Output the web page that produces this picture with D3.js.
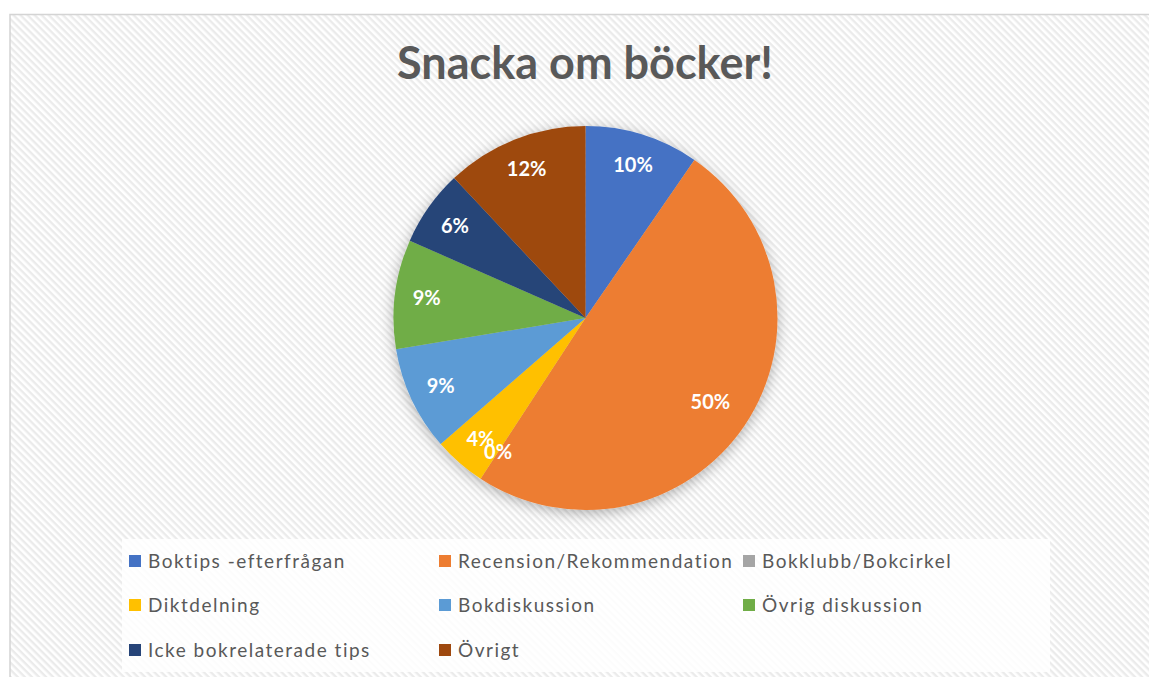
<!DOCTYPE html>
<html>
<head>
<meta charset="utf-8">
<script src="https://cdn.jsdelivr.net/npm/d3@7"></script>
<style>
body { margin: 0; background: #fff; }
svg { display: block; }
</style>
</head>
<body>
<div id="chart-area"></div>
<script>
// data
var categories = ["Boktips -efterfrågan", "Recension/Rekommendation", "Bokklubb/Bokcirkel",
	"Diktdelning", "Bokdiskussion", "Övrig diskussion", "Icke bokrelaterade tips", "Övrigt"];
var shares = [9.6, 49.6, 0, 4.4, 8.8, 9.2, 6.4, 12.0];
var colors = ["#4472C4", "#ED7D31", "#A5A5A5", "#FFC000", "#5B9BD5", "#70AD47", "#264478", "#9E480E"];

var data = categories.map(function(c, i) {
	return {name: c, value: shares[i], color: colors[i]};
});

var width = 1149,
	height = 677;

var svg = d3.select("#chart-area").append("svg")
	.attr("width", width).attr("height", height);

var defs = svg.append("defs");

// diagonal stripe background
var pat = defs.append("pattern")
	.attr("id", "stripes")
	.attr("patternUnits", "userSpaceOnUse")
	.attr("width", 5).attr("height", 5)
	.attr("patternTransform", "rotate(45)");
pat.append("rect").attr("width", 5).attr("height", 5).attr("fill", "#ffffff");
pat.append("rect").attr("width", 5).attr("height", 2.4).attr("fill", "#ebebeb");

var shadow = defs.append("filter")
	.attr("id", "shadow")
	.attr("x", "-20%").attr("y", "-20%").attr("width", "140%").attr("height", "140%");
shadow.append("feDropShadow")
	.attr("dx", 0).attr("dy", 3)
	.attr("stdDeviation", 7)
	.attr("flood-color", "#000")
	.attr("flood-opacity", 0.3);

// chart area
svg.append("rect")
	.attr("x", 10).attr("y", 14.5)
	.attr("width", width).attr("height", height)
	.attr("fill", "url(#stripes)")
	.attr("stroke", "#d4d4d4")
	.attr("stroke-width", 1.5);

svg.append("text")
	.attr("x", 585)
	.attr("y", 79)
	.attr("text-anchor", "middle")
	.style("font-family", "Lato, 'Open Sans', sans-serif")
	.style("font-weight", "bold")
	.style("font-size", "45px")
	.attr("fill", "#595959")
	.text("Snacka om böcker!");

// pie
var cx = 585.5, cy = 318, radius = 192;
var total = d3.sum(shares);

var pie = d3.pie()
	.sort(null)
	.value(function(d) { return d.value; });

var arc = d3.arc().innerRadius(0).outerRadius(radius);
var labelArc = d3.arc().innerRadius(160).outerRadius(160);

var g = svg.append("g")
	.attr("transform", "translate(" + cx + "," + cy + ")");

var arcs = pie(data);

g.append("g")
	.attr("filter", "url(#shadow)")
	.selectAll("path")
	.data(arcs)
	.enter()
	.append("path")
	.attr("d", arc)
	.attr("fill", function(d) { return d.data.color; });

g.selectAll("text.lbl")
	.data(arcs)
	.enter()
	.append("text")
	.attr("class", "lbl")
	.attr("transform", function(d) {
		var c = labelArc.centroid(d);
		// the big slice sits a bit further in
		if (d.data.value > 40) { c = [c[0] * 0.94, c[1] * 0.94]; }
		return "translate(" + c[0] + "," + c[1] + ")";
	})
	.attr("text-anchor", "middle")
	.attr("dy", "0.36em")
	.style("font-family", "Lato, 'Open Sans', sans-serif")
	.style("font-weight", "bold")
	.style("font-size", "20px")
	.attr("fill", "#ffffff")
	.text(function(d) { return Math.round(d.data.value / total * 100) + "%"; });

// legend
var legendX = [129, 439, 743],
	legendY = [561, 605, 650];

svg.append("rect")
	.attr("x", 122).attr("y", 539)
	.attr("width", 928).attr("height", 133)
	.attr("fill", "#ffffff")
	.attr("fill-opacity", 0.85);

var legend = svg.selectAll("g.legend")
	.data(data)
	.enter()
	.append("g")
	.attr("class", "legend")
	.attr("transform", function(d, i) {
		return "translate(" + legendX[i % 3] + "," + legendY[Math.floor(i / 3)] + ")";
	});

legend.append("rect")
	.attr("x", 0).attr("y", -6)
	.attr("width", 12).attr("height", 12)
	.attr("fill", function(d) { return d.color; });

legend.append("text")
	.attr("x", 19)
	.attr("dy", "0.35em")
	.style("font-family", "Lato, 'Open Sans', sans-serif")
	.style("font-size", "19px")
	.style("letter-spacing", "1.5px")
	.attr("fill", "#595959")
	.text(function(d) { return d.name; });
</script>
</body>
</html>
